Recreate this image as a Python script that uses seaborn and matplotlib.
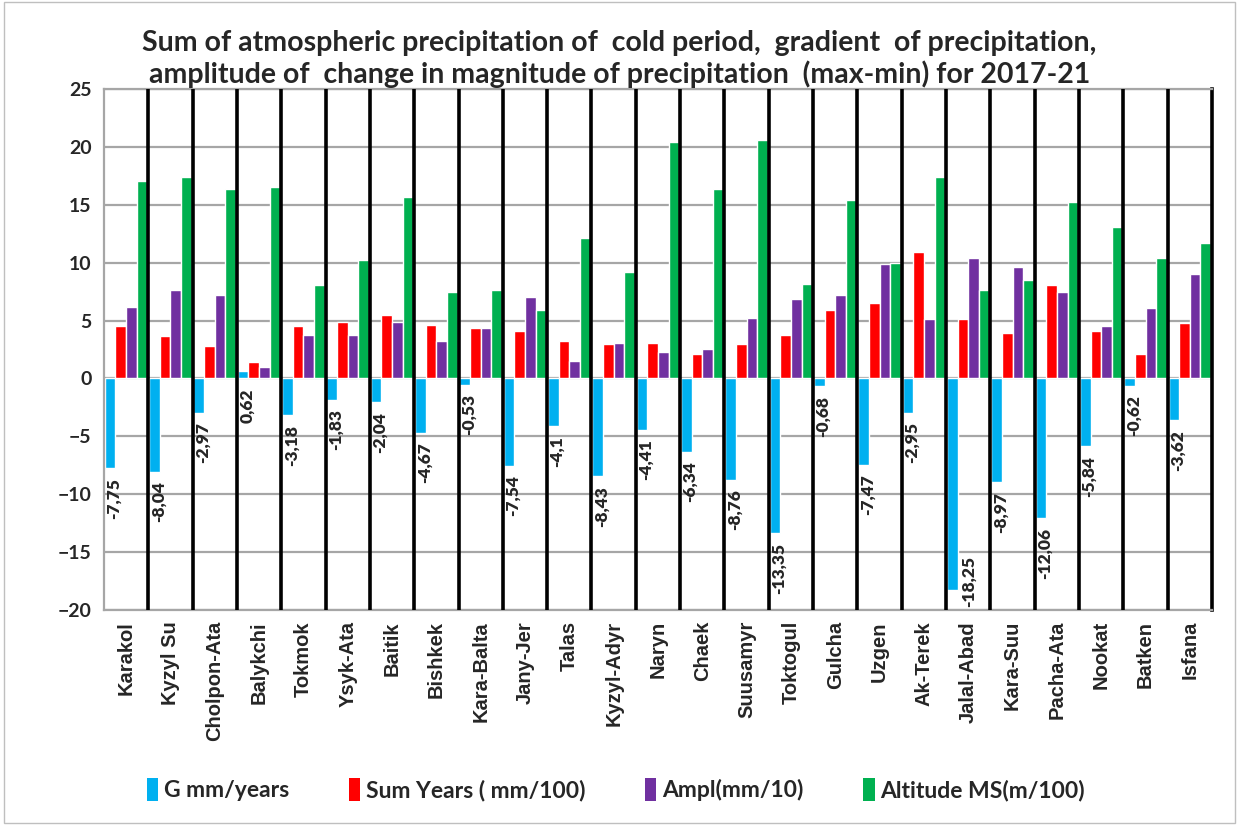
import numpy as np
import pandas as pd
import matplotlib
matplotlib.use("Agg")
import matplotlib.pyplot as plt
from matplotlib.patches import Patch, Rectangle
import seaborn as sns

stations = ["Karakol", "Kyzyl Su", "Cholpon-Ata", "Balykchi", "Tokmok", "Ysyk-Ata",
            "Baitik", "Bishkek", "Kara-Balta", "Jany-Jer", "Talas", "Kyzyl-Adyr",
            "Naryn", "Chaek", "Suusamyr", "Toktogul", "Gulcha", "Uzgen", "Ak-Terek",
            "Jalal-Abad", "Kara-Suu", "Pacha-Ata", "Nookat", "Batken", "Isfana"]

gradient = [-7.75, -8.04, -2.97, 0.62, -3.18, -1.83, -2.04, -4.67, -0.53, -7.54,
            -4.1, -8.43, -4.41, -6.34, -8.76, -13.35, -0.68, -7.47, -2.95, -18.25,
            -8.97, -12.06, -5.84, -0.62, -3.62]
sum_years = [4.5, 3.7, 2.8, 1.4, 4.5, 4.9, 5.5, 4.65, 4.35, 4.1, 3.25, 3.0,
             3.1, 2.1, 3.0, 3.8, 5.95, 6.5, 10.9, 5.1, 3.95, 8.05, 4.1, 2.1, 4.8]
ampl = [6.2, 7.65, 7.2, 0.95, 3.8, 3.8, 4.85, 3.25, 4.35, 7.05, 1.55, 3.1,
        2.25, 2.55, 5.2, 6.9, 7.2, 9.9, 5.1, 10.45, 9.6, 7.5, 4.5, 6.1, 9.05]
altitude = [17.1, 17.4, 16.4, 16.5, 8.1, 10.2, 15.7, 7.5, 7.65, 5.95, 12.1, 9.2,
            20.4, 16.4, 20.6, 8.2, 15.4, 10.0, 17.4, 7.65, 8.5, 15.25, 13.1, 10.45, 11.7]

series_names = ["G mm/years", "Sum Years ( mm/100)", "Ampl(mm/10)", "Altitude MS(m/100)"]
colors = ["#00B0F0", "#FF0000", "#7030A0", "#00B050"]

df = pd.DataFrame({
    "station": np.tile(stations, 4),
    "series": np.repeat(series_names, len(stations)),
    "value": np.concatenate([gradient, sum_years, ampl, altitude]),
})

sns.set_theme(style="white")
plt.rcParams["font.family"] = ["Lato", "DejaVu Sans"]

fig = plt.figure(figsize=(12.39, 8.25), dpi=100)
ax = fig.add_axes([0.0839, 0.2606, 0.8943, 0.6314])

sns.barplot(data=df, x="station", y="value", hue="series", hue_order=series_names,
            order=stations, palette=colors, width=0.96, gap=0, saturation=1,
            errorbar=None, legend=False, ax=ax, zorder=2)

n = len(stations)
ax.set_xlim(-0.5, n - 0.5)
ax.set_ylim(-20, 25)
ax.set_yticks(np.arange(-20, 26, 5))
ax.yaxis.grid(True, color="#A6A6A6", linewidth=1.6, zorder=0)
ax.set_axisbelow(True)
ax.vlines(np.arange(0.5, n - 0.5, 1.0), -20, 25, colors="black", linewidth=2.6, zorder=3)

for side in ["left", "top", "bottom"]:
    ax.spines[side].set_color("#A6A6A6")
    ax.spines[side].set_linewidth(1.6)
ax.spines["right"].set_color("black")
ax.spines["right"].set_linewidth(2.6)

ax.set_xlabel("")
ax.set_ylabel("")
ax.tick_params(axis="x", length=0, pad=8)
ax.tick_params(axis="y", length=6, width=1.6, color="#A6A6A6", pad=3, labelsize=14)
for lbl in ax.get_yticklabels():
    lbl.set_fontweight("bold")
ax.set_xticks(range(n))
ax.set_xticklabels(stations, rotation=90, fontsize=14.5, fontweight="bold",
                   family=["Liberation Sans", "DejaVu Sans"])

# value labels for the gradient series, kept inside the plot area
labels = []
for patch, val in zip(ax.containers[0], gradient):
    xc = patch.get_x() + patch.get_width()
    t = ax.annotate(f"{val:g}".replace(".", ","), xy=(xc, min(val, 0)),
                    xytext=(-1, -7), textcoords="offset points", rotation=90,
                    ha="center", va="top", fontsize=12.5, fontweight="heavy", zorder=4)
    labels.append((t, patch))

fig.canvas.draw()
renderer = fig.canvas.get_renderer()
ax_box = ax.get_window_extent(renderer)
for t, patch in labels:
    bb = t.get_window_extent(renderer)
    if bb.y0 < ax_box.y0 + 3:
        lift = (ax_box.y0 + 3 - bb.y0) * 72 / fig.dpi
        dx, dy = t.xyann
        t.xyann = (dx + 9, dy + lift)

fig.text(0.5, 0.948, "Sum of atmospheric precipitation of  cold period,  gradient  of precipitation,",
         ha="center", va="center", fontsize=20.5, fontweight="bold")
fig.text(0.5, 0.910, "amplitude of  change in magnitude of precipitation  (max-min) for 2017-21",
         ha="center", va="center", fontsize=20.5, fontweight="bold")

handles = [Patch(facecolor=c, edgecolor="none") for c in colors]
fig.legend(handles, series_names, loc="center", bbox_to_anchor=(0.497, 0.043), ncol=4,
           frameon=False, prop={"weight": "bold", "size": 16.5},
           handlelength=0.5, handleheight=1.2, handletextpad=0.25, columnspacing=2.6)

fig.add_artist(Rectangle((0.003, 0.003), 0.994, 0.994, transform=fig.transFigure,
                         fill=False, edgecolor="#BFBFBF", linewidth=1))

fig.savefig("out.png", dpi=100)
